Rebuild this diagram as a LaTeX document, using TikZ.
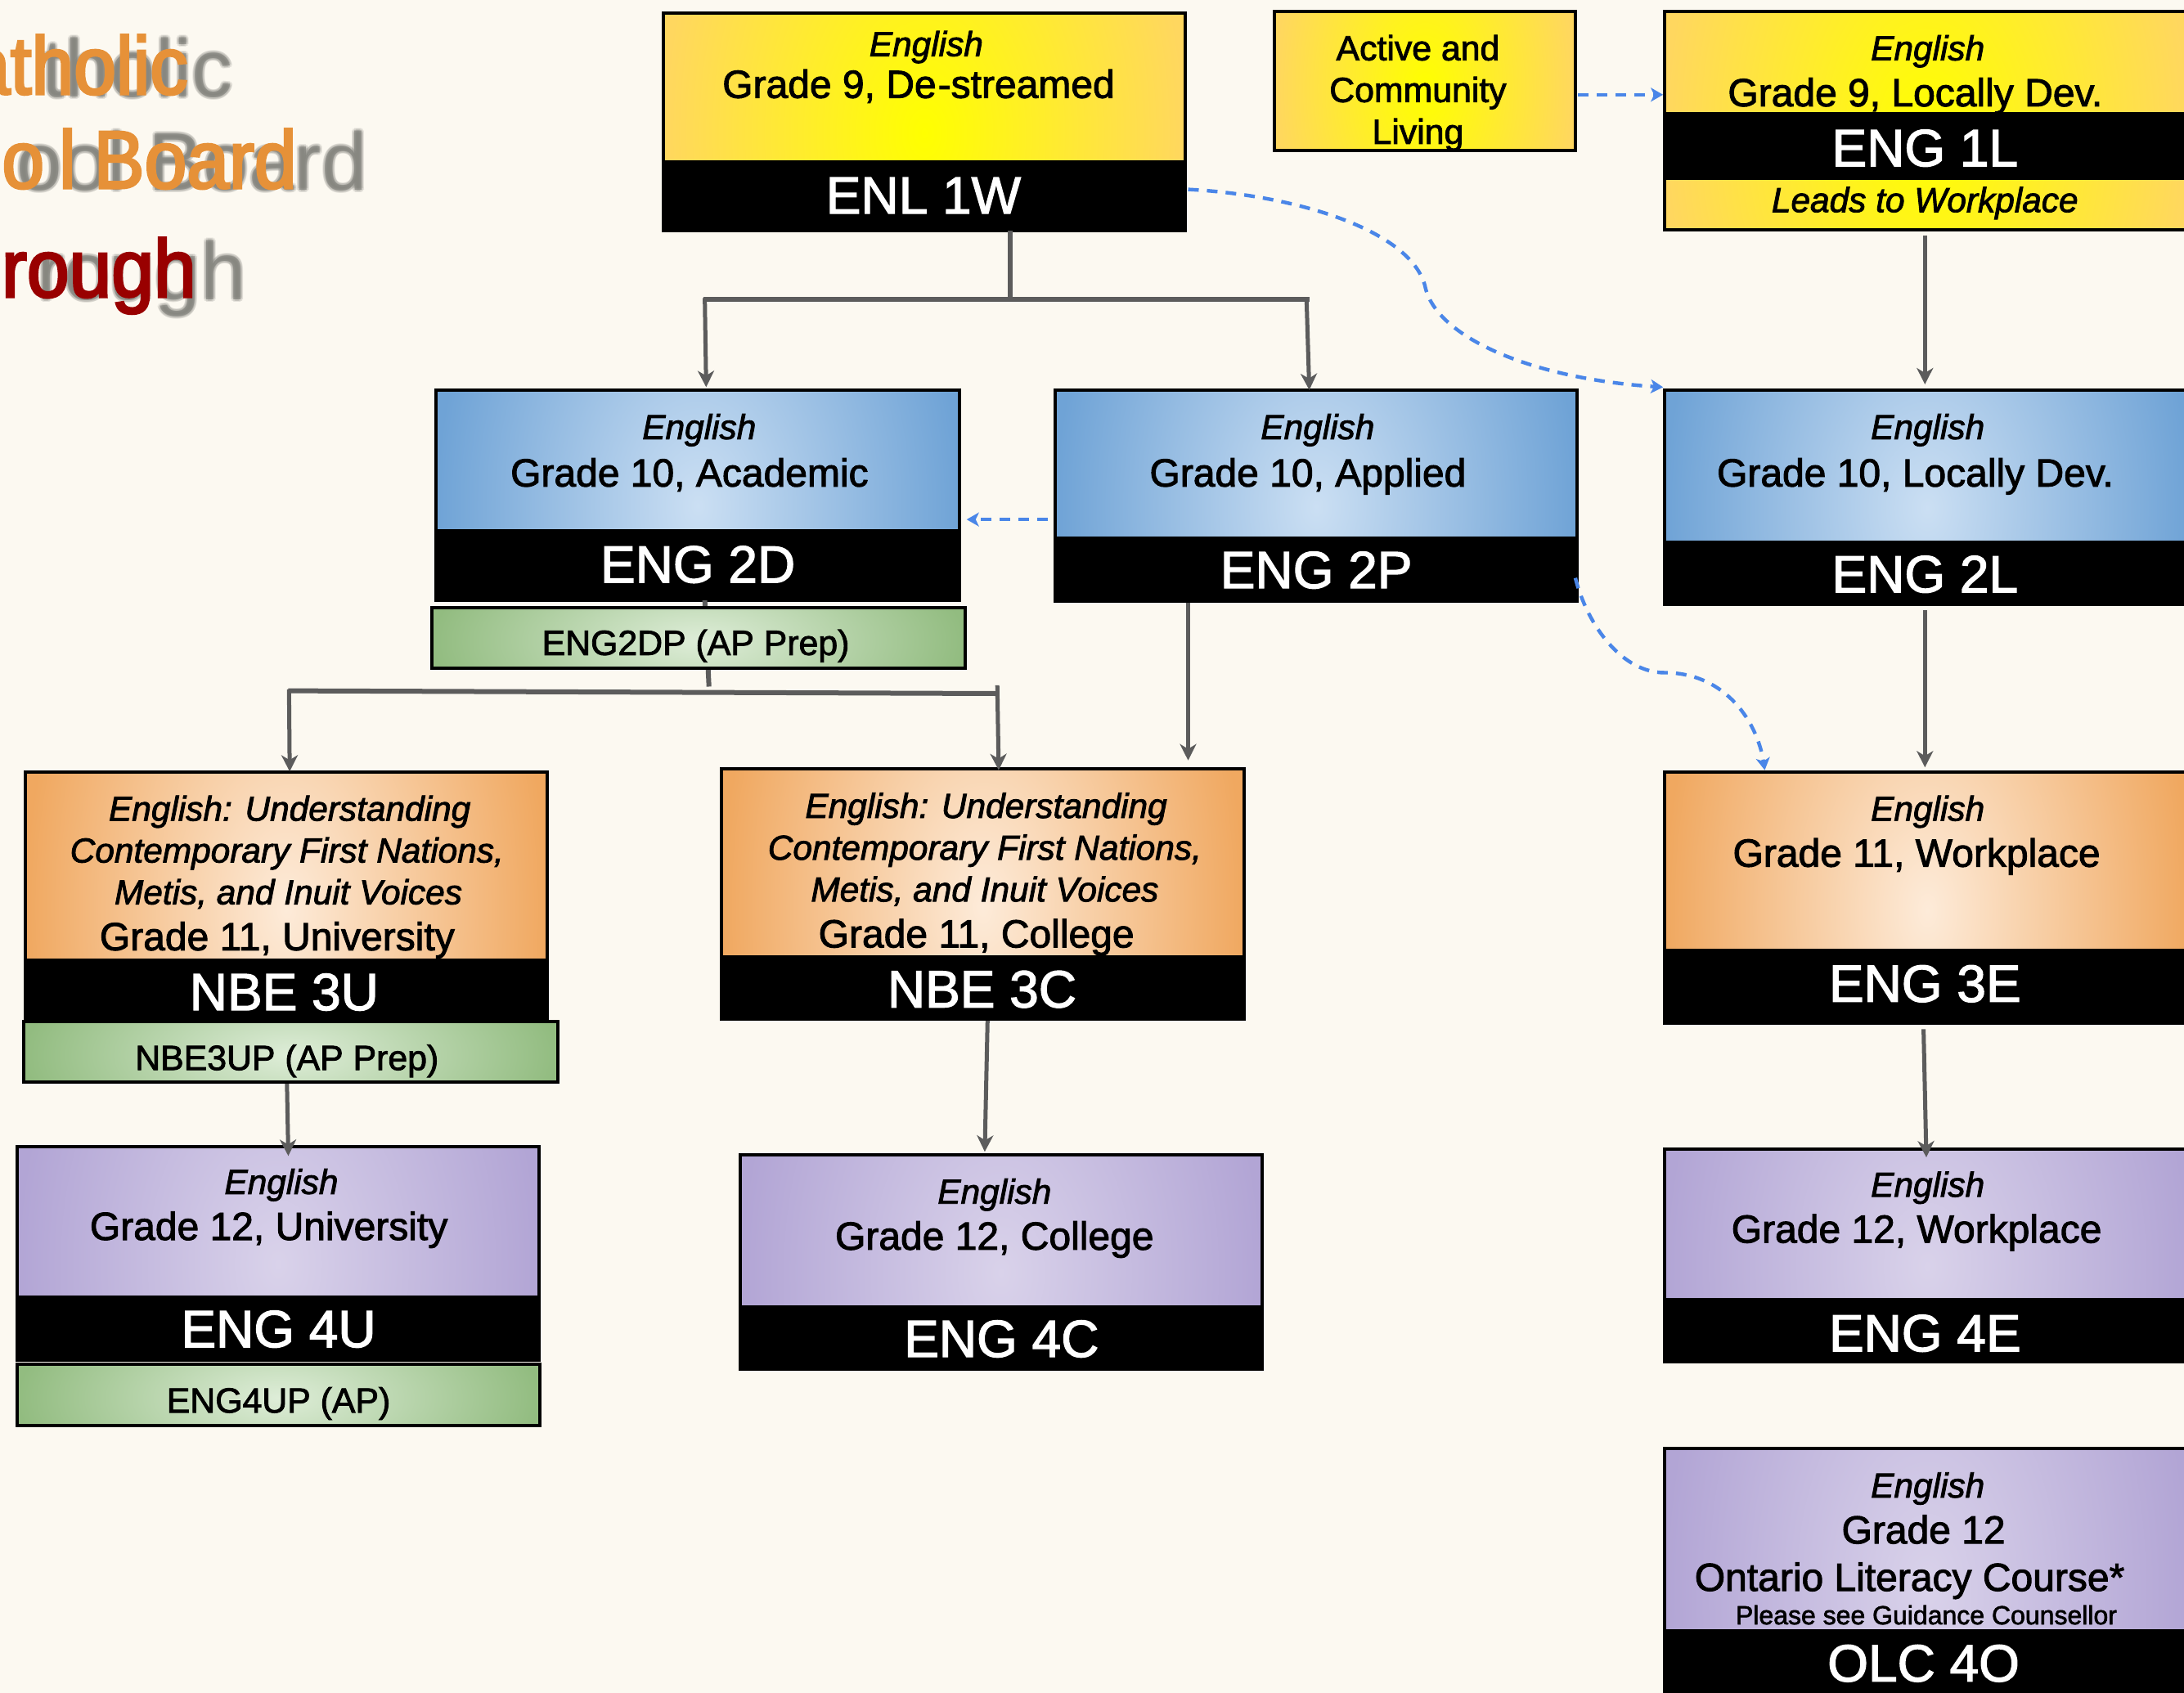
\documentclass[tikz,border=0pt]{standalone}
\usepackage{fontspec}
\setmainfont[FakeBold=2]{Liberation Sans}
\newfontfamily\titlefont[FakeStretch=0.93,FakeBold=3]{Liberation Sans}
\newfontfamily\shadowfont{Liberation Sans}
\usetikzlibrary{fit,arrows.meta,shadings,calc}
\definecolor{paper}{HTML}{FCF9F1}
\definecolor{linkgray}{HTML}{5C5C5C}
\definecolor{linkblue}{HTML}{4A86E8}
\definecolor{ttlorange}{HTML}{E69138}
\definecolor{ttlred}{HTML}{990000}
\definecolor{ttlshadow}{HTML}{7F7F79}
\definecolor{yedge}{HTML}{FFD75F}
\definecolor{bedge}{HTML}{6FA3D6}
\definecolor{bmid}{HTML}{CBDFF3}
\definecolor{oedge}{HTML}{F0A860}
\definecolor{omid}{HTML}{FDEBD9}
\definecolor{pedge}{HTML}{B2A5D5}
\definecolor{pmid}{HTML}{D9D2EA}
\definecolor{gedge}{HTML}{92BC80}
\definecolor{gmid}{HTML}{DEEDD8}
\tikzset{
  x=1.7028pt,y=-1.7028pt,
  box/.style={draw=black,line width=4pt,inner sep=0pt,outer sep=0pt},
  band/.style={fill=black,draw=black,line width=3pt,inner sep=0pt,outer sep=0pt},
  softfill/.style 2 args={box,fill=#1,path picture={
    \shade[inner color=#2,outer color=#1]
      ($(path picture bounding box.south west)!-1.35!(path picture bounding box.north west)$) rectangle
      ($(path picture bounding box.south east)!2.25!(path picture bounding box.north east)$);}},
  ybox/.style={softfill={yedge}{yellow}},
  bbox/.style={softfill={bedge}{bmid}},
  obox/.style={softfill={oedge}{omid}},
  pbox/.style={softfill={pedge}{pmid}},
  gbox/.style={softfill={gedge}{gmid}},
  lab/.style={anchor=base,inner sep=0pt,yshift=-0.5pt},
  subj/.style={lab,font=\fontsize{42.4}{46}\selectfont\itshape},
  grade/.style={lab,font=\fontsize{48}{50}\selectfont},
  plainlab/.style={lab,font=\fontsize{42.8}{46}\selectfont},
  smalllab/.style={lab,font=\fontsize{32}{36}\selectfont},
  codelab/.style={lab,text=white,font=\fontsize{64}{66}\selectfont},
  ttl/.style={anchor=base east,inner sep=0pt,font=\fontsize{100}{104}\selectfont\titlefont},
  ttlsh/.style={anchor=base east,inner sep=0pt,text=ttlshadow,font=\fontsize{100}{104}\selectfont\shadowfont},
  link/.style={draw=linkgray,line width=6pt},
  linkar/.style={draw=linkgray,line width=5pt,-{Stealth[length=20pt,width=20pt,inset=6pt]}},
  bluedash/.style={draw=linkblue,line width=4.4pt,dash pattern=on 13pt off 10pt,-{Stealth[length=15pt,width=17pt,inset=4pt]}}
}
% name, x1,y1,x2,y2, band top, style
\newcommand{\course}[7]{%
  \node[#7,fit={(#2-.8,#3-.8)(#4,#5+.8)}] (#1) {};
  \node[band,fit={(#2-.8,#6+.9)(#4,#5+.4)}] (#1b) {};
}
\newcommand{\softshadow}[4]{% id, right x(px), baseline y(px), text
  \foreach \dx/\dy/\k in {-3/0/a,3/0/b,0/-3/c,0/3/d,-2/-2/e,2/2/f,2/-2/g,-2/2/h}{
    \node[ttlsh,opacity=.18] (#1\k) at ($(#2pt,-#3pt)+(\dx pt,\dy pt)$) {#4};
  }
  \node[ttlsh,opacity=.65] (#1) at (#2pt,-#3pt) {#4};
}
\begin{document}
\begin{tikzpicture}
\useasboundingbox (0,0) rectangle (1568,1215.6);
\clip (0,0) rectangle (1568,1215.6);
\fill[paper] (0,0) rectangle (1568,1215.6);

% title shadows and titles
\softshadow{shA}{285}{118}{tholic}
\softshadow{shB}{449}{232}{ool Board}
\softshadow{shC}{301}{366}{rough}
\node[ttl,text=ttlorange] (ttlA) at (230pt,-115pt) {atholic};
\node[ttl,text=ttlorange] (ttlB) at (363pt,-230pt) {o\kern18pt l\kern-4pt\ Board};
\node[ttl,text=ttlred] (ttlC) at (240pt,-363pt) {rough};

% course boxes
\course{enl}{477}{10}{851}{165}{115}{ybox}
\node[ybox,fit={(1195.2,8.2)(1572,164.8)}] (eng1l) {};
\node[band,fit={(1195.2,81.5)(1572,128.5)}] (eng1lb) {};
\node[ybox,fit={(915,8.5)(1131,108)}] (acl) {};
\course{eng2d}{314}{281}{689}{430}{380}{bbox}
\course{eng2p}{758.5}{281}{1132.5}{431}{385}{bbox}
\course{eng2l}{1196}{281}{1572}{433}{388}{bbox}
\course{nbe3u}{19}{555}{393}{732}{688}{obox}
\course{nbe3c}{519}{553}{893}{731}{686}{obox}
\course{eng3e}{1196}{555}{1572}{734}{681}{obox}
\course{eng4u}{13}{824}{387}{976}{930}{pbox}
\course{eng4c}{532}{830}{906}{982}{937}{pbox}
\course{eng4e}{1196}{826}{1572}{977}{932}{pbox}
\course{olc}{1196}{1041}{1572}{1225}{1170}{pbox}

% grey connectors
\coordinate (busA) at (725,215);
\coordinate (busAl) at (505,215);
\coordinate (busAr) at (940,215);
\coordinate (tipAl) at (507,278);
\coordinate (tipAr) at (940,280);
\draw[link] (enl.south -| busA) -- (busA);
\draw[link] (busAl) -- (busAr);
\draw[linkar] (506,214) -- (tipAl);
\draw[linkar] (938,214) -- (tipAr);
\coordinate (from1l) at (1382,169);
\coordinate (to2l) at (1382,276);
\draw[linkar] (from1l) -- (to2l);
\coordinate (busB) at (509,493);
\coordinate (busBl) at (207,496);
\coordinate (busBr) at (716,498);
\coordinate (from2d) at (506,431);
\draw[link] (from2d) -- (busB);
\draw[link] (busBl) -- (busBr);
\draw[linkar] (207.5,495) -- (208,554);
\draw[linkar] (716,492) -- (717,553);
\coordinate (from2p) at (853,433);
\coordinate (to3c) at (853,546);
\draw[linkar] (from2p) -- (to3c);
\coordinate (from2l) at (1382,438);
\coordinate (to3e) at (1382,551);
\draw[linkar] (from2l) -- (to3e);
\coordinate (from3e) at (1381,739);
\coordinate (to4e) at (1383,831);
\draw[linkar] (from3e) -- (to4e);
\coordinate (from3u) at (206,777);
\coordinate (to4u) at (207,830);
\draw[linkar] (from3u) -- (to4u);
\coordinate (from3c) at (709,733);
\coordinate (to4c) at (707,827);
\draw[linkar] (from3c) -- (to4c);

% AP boxes
\node[gbox,fit={(310.3,436.3)(692.7,479.7)}] (eng2dp) {};
\node[gbox,fit={(17.3,733.3)(400.3,776.7)}] (nbe3up) {};
\node[gbox,fit={(12.6,979.6)(387.4,1023.4)}] (eng4up) {};

% blue dashed connectors
\coordinate (d1a) at (1133,68);
\coordinate (d1b) at (1194,68);
\draw[bluedash] (d1a) -- (d1b);
\coordinate (d2a) at (853,136);
\coordinate (d2m) at (1023,205);
\coordinate (d2b) at (1194,278);
\draw[bluedash] (d2a) .. controls (930,140) and (1012,165) .. (d2m) .. controls (1030,242) and (1100,272) .. (d2b);
\coordinate (d3a) at (752,373);
\coordinate (d3b) at (694,373);
\draw[bluedash] (d3a) -- (d3b);
\coordinate (d4a) at (1131,415);
\coordinate (d4m) at (1195,483);
\coordinate (d4b) at (1267,553);
\draw[bluedash] (d4a) .. controls (1140,450) and (1165,483) .. (d4m) .. controls (1240,483) and (1262,520) .. (d4b);

% labels
\node[subj] (t1) at (665,40) {English};
\node[grade] (t2) at (659.5,70) {Grade 9, De\kern2pt -streamed};
\node[codelab] (t3) at (663,153) {ENL 1W};
\node[plainlab] (t4) at (1018,43) {Active and};
\node[plainlab] (t5) at (1018,73) {Community};
\node[plainlab] (t6) at (1018,103) {Living};
\node[subj] (t7) at (1384,43) {English};
\node[grade] (t8) at (1375,76) {Grade 9, Locally Dev.};
\node[codelab] (t9) at (1382,119) {ENG 1L};
\node[subj] (t10) at (1382,152) {Leads to Workplace};
\node[subj] (t11) at (502,315) {English};
\node[grade] (t12) at (495,349) {Grade 10, Academic};
\node[codelab] (t13) at (501,418) {ENG 2D};
\node[plainlab] (t14) at (499.5,470) {ENG2DP (AP Prep)};
\node[subj] (t15) at (946,315) {English};
\node[grade] (t16) at (939,349) {Grade 10, Applied};
\node[codelab] (t17) at (945,422) {ENG 2P};
\node[subj] (t18) at (1384,315) {English};
\node[grade] (t19) at (1375,349) {Grade 10, Locally Dev.};
\node[codelab] (t20) at (1382,425) {ENG 2L};
\node[subj] (t21) at (208,589) {English: Understanding};
\node[subj] (t22) at (206,619) {Contemporary First Nations,};
\node[subj] (t23) at (207,649) {Metis, and Inuit Voices};
\node[grade] (t24) at (199,682) {Grade 11, University};
\node[codelab] (t25) at (204,725) {NBE 3U};
\node[plainlab] (t26) at (206,768) {NBE3UP (AP Prep)};
\node[subj] (t27) at (708,587) {English: Understanding};
\node[subj] (t28) at (707,617) {Contemporary First Nations,};
\node[subj] (t29) at (707,647) {Metis, and Inuit Voices};
\node[grade] (t30) at (701,680) {Grade 11, College};
\node[codelab] (t31) at (705,723) {NBE 3C};
\node[subj] (t32) at (1384,589) {English};
\node[grade] (t33) at (1376,622) {Grade 11, Workplace};
\node[codelab] (t34) at (1382,719) {ENG 3E};
\node[subj] (t35) at (202,857) {English};
\node[grade] (t36) at (193,890) {Grade 12, University};
\node[codelab] (t37) at (200,967) {ENG 4U};
\node[plainlab] (t38) at (200,1014) {ENG4UP (AP)};
\node[subj] (t39) at (714,864) {English};
\node[grade] (t40) at (714,897) {Grade 12, College};
\node[codelab] (t41) at (719,974) {ENG 4C};
\node[subj] (t42) at (1384,859) {English};
\node[grade] (t43) at (1376,892) {Grade 12, Workplace};
\node[codelab] (t44) at (1382,970) {ENG 4E};
\node[subj] (t45) at (1384,1075) {English};
\node[grade] (t46) at (1381,1108) {Grade 12};
\node[grade] (t47) at (1371,1142) {Ontario Literacy Course*};
\node[smalllab] (t48) at (1383,1166) {Please see Guidance Counsellor};
\node[codelab] (t49) at (1381,1207) {OLC 4O};
\end{tikzpicture}
\end{document}
